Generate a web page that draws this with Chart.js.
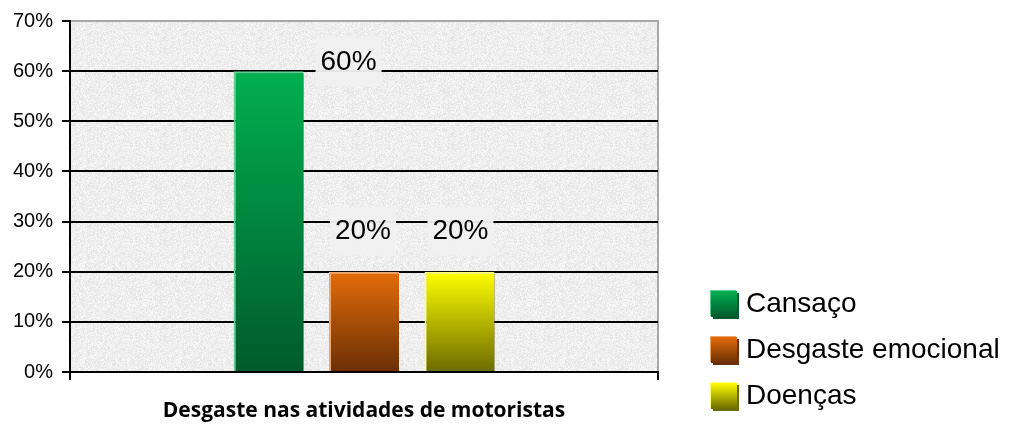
<!doctype html>
<html>
<head>
<meta charset="utf-8">
<script src="https://cdn.jsdelivr.net/npm/chart.js@4.4.1/dist/chart.umd.min.js"></script>
</head>
<body style="margin:0;background:#fff;overflow:hidden;">
<div style="width:1016px;height:425px;"><canvas id="c" width="1016" height="425"></canvas></div>
<script>
// data
const categories = ['Desgaste nas atividades de motoristas'];
const seriesNames = ['Cansaço', 'Desgaste emocional', 'Doenças'];
const cansaco = [60];
const desgasteEmocional = [20];
const doencas = [20];
const yTicks = [0, 10, 20, 30, 40, 50, 60, 70];

// colours: [top, bottom, edge highlight]
const palette = [
  ['#00b050', '#005a2c', '#5fd08f'],
  ['#e46c0a', '#6a2f04', '#f0a56c'],
  ['#ffff00', '#6b6b00', '#ffff80']
];
// where excel left the value labels, relative to bar top centre
const labelShift = [{dx: 80, dy: -10}, {dx: -1, dy: -41}, {dx: 1, dy: -41}];

const FONT = '"Liberation Sans", Arial, sans-serif';

function grad(ctx, top, bottom, i) {
  const g = ctx.createLinearGradient(0, top, 0, bottom);
  g.addColorStop(0, palette[i][0]);
  g.addColorStop(1, palette[i][1]);
  return g;
}

// light grey granite-ish fill for the plot area (deterministic speckle)
function makeTexture() {
  const c = document.createElement('canvas');
  c.width = 96; c.height = 96;
  const x = c.getContext('2d');
  const img = x.createImageData(96, 96);
  let s = 12345;
  for (let p = 0; p < 96 * 96; p++) {
    s = (s * 1103515245 + 12345) & 0x7fffffff;
    const v = 228 + ((s >> 8) % 22);
    img.data[p * 4] = v; img.data[p * 4 + 1] = v; img.data[p * 4 + 2] = v; img.data[p * 4 + 3] = 255;
  }
  x.putImageData(img, 0, 0);
  return x;
}
const tex = makeTexture();

const plotBg = {
  id: 'plotBg',
  beforeDraw(chart) {
    const {ctx, chartArea: a} = chart;
    ctx.save();
    ctx.fillStyle = ctx.createPattern(tex.canvas, 'repeat');
    ctx.fillRect(a.left, a.top, a.right - a.left, a.bottom - a.top);
    ctx.strokeStyle = '#a8a8a8';
    ctx.lineWidth = 2;
    ctx.beginPath();
    ctx.moveTo(a.left, a.top);
    ctx.lineTo(a.right, a.top);
    ctx.lineTo(a.right, a.bottom);
    ctx.stroke();
    ctx.restore();
  }
};

const barShadow = {
  id: 'barShadow',
  beforeDatasetDraw(chart) {
    const ctx = chart.ctx;
    ctx.save();
    ctx.shadowColor = 'rgba(60,40,0,0.75)';
    ctx.shadowOffsetX = 3;
    ctx.shadowOffsetY = 2;
    ctx.shadowBlur = 0;
  },
  afterDatasetDraw(chart) {
    chart.ctx.restore();
  }
};

const valueLabels = {
  id: 'valueLabels',
  afterDatasetsDraw(chart) {
    const ctx = chart.ctx;
    ctx.save();
    ctx.font = '28px ' + FONT;
    ctx.textAlign = 'center';
    ctx.textBaseline = 'middle';
    chart.data.datasets.forEach((ds, i) => {
      chart.getDatasetMeta(i).data.forEach((bar, j) => {
        const x = bar.x + labelShift[i].dx;
        const y = bar.y + labelShift[i].dy;
        const txt = Math.round(ds.data[j]) + '%';
        ctx.fillStyle = 'rgba(240,240,240,0.95)';
        ctx.fillRect(x - 33, y - 24, 66, 49);
        ctx.fillStyle = '#000';
        ctx.fillText(txt, x, y + 1);
      });
    });
    ctx.restore();
  }
};

const sideLegend = {
  id: 'sideLegend',
  afterDraw(chart) {
    const ctx = chart.ctx;
    ctx.save();
    ctx.font = '28px ' + FONT;
    ctx.textBaseline = 'middle';
    chart.data.datasets.forEach((ds, i) => {
      const cy = 304 + i * 46;
      const x0 = 711, y0 = cy - 13, s = 26;
      ctx.fillStyle = palette[i][2];
      ctx.fillRect(x0 - 1, y0 - 1, s, s);
      ctx.fillStyle = palette[i][1];
      ctx.fillRect(x0 + 2, y0 + 2, s, s);
      ctx.fillStyle = grad(ctx, y0, y0 + s, i);
      ctx.fillRect(x0, y0, s, s);
      ctx.fillStyle = '#000';
      ctx.fillText(ds.label, 746, cy);
    });
    ctx.restore();
  }
};

const seriesValues = [cansaco, desgasteEmocional, doencas];

new Chart(document.getElementById('c'), {
  type: 'bar',
  data: {
    labels: categories,
    datasets: seriesNames.map((name, i) => ({
      label: name,
      data: seriesValues[i],
      backgroundColor: (c) => {
        const a = c.chart.chartArea;
        const ys = c.chart.scales.y;
        if (!a || !ys) return palette[i][0];
        return grad(c.chart.ctx, ys.getPixelForValue(c.raw), a.bottom, i);
      },
      borderColor: palette[i][2],
      borderWidth: {left: 2, top: 2, right: 0, bottom: 0},
      borderSkipped: false,
      categoryPercentage: 0.487,
      barPercentage: 0.733
    }))
  },
  options: {
    responsive: false,
    animation: false,
    layout: {padding: {left: 0, top: 20, right: 358, bottom: 0}},
    plugins: {legend: {display: false}, tooltip: {enabled: false}},
    scales: {
      x: {
        afterFit(s) { s.height = 53; },
        border: {display: true, color: '#000', width: 2},
        grid: {offset: true, drawOnChartArea: false, color: '#000', lineWidth: 2, tickLength: 8},
        ticks: {color: '#000', padding: 18, font: {family: '"Open Sans", sans-serif', size: 21, weight: 'bold'}}
      },
      y: {
        min: 0, max: 70,
        afterFit(s) { s.width = 70; },
        afterBuildTicks(s) { s.ticks = yTicks.map(v => ({value: v})); },
        border: {display: true, color: '#000', width: 2},
        grid: {
          color: (c) => (c.tick && c.tick.value === 70) ? 'rgba(0,0,0,0)' : '#000',
          tickColor: '#000',
          lineWidth: 2,
          tickLength: 8
        },
        ticks: {
          color: '#000',
          padding: 9,
          font: {family: FONT, size: 20},
          callback: (v) => v + '%'
        }
      }
    }
  },
  plugins: [plotBg, barShadow, valueLabels, sideLegend]
});
</script>
</body>
</html>
